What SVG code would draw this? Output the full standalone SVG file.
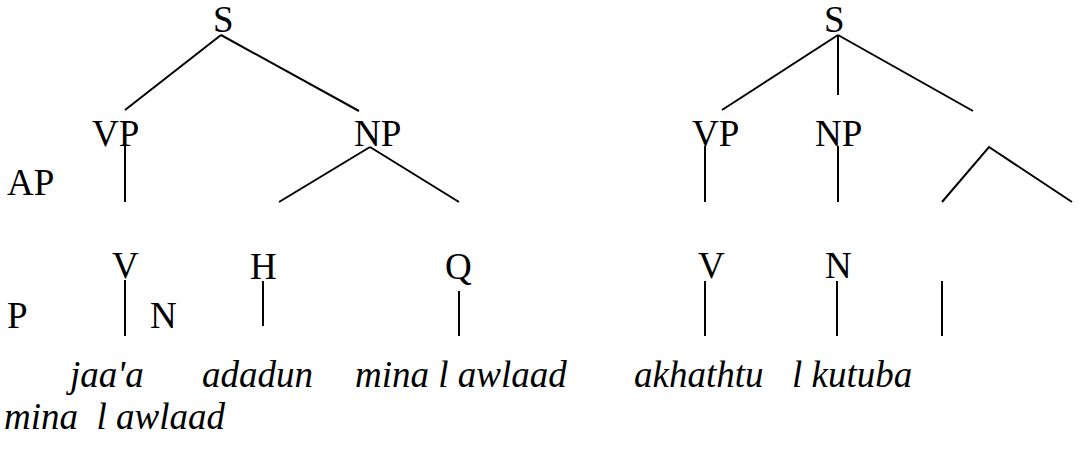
<svg xmlns="http://www.w3.org/2000/svg" width="1089" height="470" viewBox="0 0 1089 470">
  <style>
    .lbl { font-family: "Liberation Serif", "Times New Roman", serif; font-size: 37px; fill: #000; }
    .word { font-family: "Liberation Serif", "Times New Roman", serif; font-size: 37px; font-style: italic; fill: #000; white-space: pre; }
    .edge { stroke: #000; stroke-width: 2; fill: none; stroke-linecap: butt; }
  </style>
  <rect width="1089" height="470" fill="#fff"/>

  <!-- tree branches -->
  <g id="connectors">
    <!-- left tree -->
    <line class="edge" x1="221" y1="35" x2="125" y2="110"/>
    <line class="edge" x1="221" y1="35" x2="359" y2="111"/>
    <line class="edge" x1="125" y1="146" x2="125" y2="202"/>
    <line class="edge" x1="370" y1="147" x2="279" y2="202"/>
    <line class="edge" x1="370" y1="147" x2="459" y2="202"/>
    <line class="edge" x1="125" y1="280" x2="125" y2="336"/>
    <line class="edge" x1="263" y1="281" x2="263" y2="326"/>
    <line class="edge" x1="459" y1="291" x2="459" y2="336"/>
    <!-- right tree -->
    <line class="edge" x1="838" y1="35" x2="722" y2="110"/>
    <line class="edge" x1="838" y1="35" x2="838" y2="95"/>
    <line class="edge" x1="838" y1="35" x2="973" y2="111"/>
    <line class="edge" x1="705" y1="146" x2="705" y2="202"/>
    <line class="edge" x1="838" y1="146" x2="838" y2="202"/>
    <polyline class="edge" points="942,202 989,147 1072,202"/>
    <line class="edge" x1="705" y1="281" x2="705" y2="336"/>
    <line class="edge" x1="837" y1="281" x2="837" y2="336"/>
    <line class="edge" x1="942" y1="281" x2="942" y2="336"/>
  </g>

  <!-- left tree nodes -->
  <g id="s-left"><text class="lbl" x="213" y="32">S</text></g>
  <g id="vp-left"><text class="lbl" x="92" y="146">VP</text></g>
  <g id="np-left"><text class="lbl" x="354" y="146">NP</text></g>
  <g id="ap-label"><text class="lbl" x="7" y="195">AP</text></g>
  <g id="v-left"><text class="lbl" x="112" y="278">V</text></g>
  <g id="h-left"><text class="lbl" x="250" y="279">H</text></g>
  <g id="q-left"><text class="lbl" x="445" y="279">Q</text></g>
  <g id="p-label"><text class="lbl" x="7" y="328">P</text></g>
  <g id="n-left"><text class="lbl" x="150" y="328">N</text></g>

  <!-- right tree nodes -->
  <g id="s-right"><text class="lbl" x="824" y="32">S</text></g>
  <g id="vp-right"><text class="lbl" x="692" y="146">VP</text></g>
  <g id="np-right"><text class="lbl" x="815" y="146">NP</text></g>
  <g id="v-right"><text class="lbl" x="698" y="278">V</text></g>
  <g id="n-right"><text class="lbl" x="825" y="278">N</text></g>

  <!-- transliterated words -->
  <g id="words">
    <text class="word" x="70" y="387">jaa'a</text>
    <text class="word" x="202" y="387">adadun</text>
    <text class="word" x="355" y="387">mina l awlaad</text>
    <text class="word" x="634" y="387">akhathtu</text>
    <text class="word" x="792" y="387">l kutuba</text>
    <text class="word" x="4" y="429">mina  l awlaad</text>
  </g>
</svg>
